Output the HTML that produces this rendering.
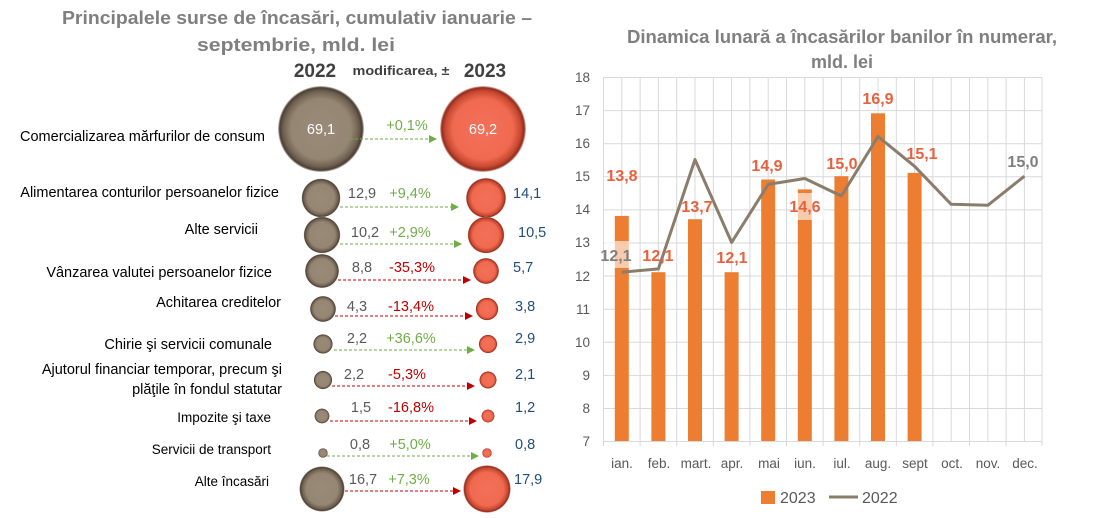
<!DOCTYPE html>
<html><head><meta charset="utf-8"><style>
html,body{margin:0;padding:0;background:#fff;}
svg text{font-family:"Liberation Sans",sans-serif;}
</style></head><body>
<svg width="1104" height="513" viewBox="0 0 1104 513" xmlns="http://www.w3.org/2000/svg">
<defs>
<radialGradient id="gb" cx="50%" cy="50%" r="50%">
<stop offset="0" stop-color="#9a8a78"/><stop offset="0.7" stop-color="#958573"/><stop offset="0.88" stop-color="#6e6050"/><stop offset="0.96" stop-color="#4a3f34"/><stop offset="1" stop-color="#d8d0c8"/>
</radialGradient>
<radialGradient id="gr" cx="50%" cy="50%" r="50%">
<stop offset="0" stop-color="#f4705a"/><stop offset="0.7" stop-color="#f06a50"/><stop offset="0.88" stop-color="#c84830"/><stop offset="0.96" stop-color="#8f2e1e"/><stop offset="1" stop-color="#f0c8c0"/>
</radialGradient>
<marker id="ag" markerWidth="8" markerHeight="8" refX="7" refY="4" orient="auto"><path d="M0,0 L8,4 L0,8 z" fill="#70ad47"/></marker>
<marker id="ar" markerWidth="8" markerHeight="8" refX="7" refY="4" orient="auto"><path d="M0,0 L8,4 L0,8 z" fill="#c00000"/></marker>
</defs>

<text x="297" y="24" text-anchor="middle" font-size="18.5" font-weight="bold" fill="#7f7f7f" textLength="470" lengthAdjust="spacingAndGlyphs">Principalele surse de încasări, cumulativ ianuarie –</text>
<text x="296" y="51" text-anchor="middle" font-size="18.5" font-weight="bold" fill="#7f7f7f" textLength="198" lengthAdjust="spacingAndGlyphs">septembrie, mld. lei</text>
<text x="315" y="77" text-anchor="middle" font-size="19" font-weight="bold" fill="#404040">2022</text>
<text x="401" y="75" text-anchor="middle" font-size="13" font-weight="bold" fill="#404040" textLength="97" lengthAdjust="spacingAndGlyphs">modificarea, ±</text>
<text x="485" y="77" text-anchor="middle" font-size="19" font-weight="bold" fill="#404040">2023</text>

<g font-size="14.5" fill="#000" text-anchor="end">
<text x="265" y="141">Comercializarea mărfurilor de consum</text>
<text x="279" y="197">Alimentarea conturilor persoanelor fizice</text>
<text x="258" y="234">Alte servicii</text>
<text x="272" y="277">Vânzarea valutei persoanelor fizice</text>
<text x="281" y="307">Achitarea creditelor</text>
<text x="272" y="349">Chirie şi servicii comunale</text>
<text x="282" y="374">Ajutorul financiar temporar, precum şi</text>
<text x="282" y="394">plăţile în fondul statutar</text>
<text x="271" y="422" font-size="13.5">Impozite şi taxe</text>
<text x="271" y="454" font-size="13.5">Servicii de transport</text>
<text x="269" y="486" font-size="13.5">Alte încasări</text>
</g>

<g>
<circle cx="321" cy="129" r="43" fill="url(#gb)"/><circle cx="483" cy="129" r="43" fill="url(#gr)"/>
<circle cx="321" cy="198" r="19.4" fill="url(#gb)"/><circle cx="486" cy="198" r="20" fill="url(#gr)"/>
<circle cx="322" cy="235" r="18.3" fill="url(#gb)"/><circle cx="486" cy="235" r="18.3" fill="url(#gr)"/>
<circle cx="322" cy="271" r="17" fill="url(#gb)"/><circle cx="486" cy="271" r="13" fill="url(#gr)"/>
<circle cx="323" cy="309" r="13" fill="url(#gb)"/><circle cx="487" cy="309" r="11.3" fill="url(#gr)"/>
<circle cx="323" cy="344" r="9.7" fill="url(#gb)"/><circle cx="488" cy="344" r="9.2" fill="url(#gr)"/>
<circle cx="323" cy="380" r="9.2" fill="url(#gb)"/><circle cx="488" cy="380" r="8.6" fill="url(#gr)"/>
<circle cx="322" cy="416" r="7.5" fill="url(#gb)"/><circle cx="488" cy="416" r="6.5" fill="url(#gr)"/>
<circle cx="323" cy="453" r="4.8" fill="url(#gb)"/><circle cx="487" cy="453" r="4.8" fill="url(#gr)"/>
<circle cx="322" cy="489" r="22.6" fill="url(#gb)"/><circle cx="487" cy="489" r="23.7" fill="url(#gr)"/>
</g>

<g stroke-width="1" stroke-dasharray="3,2" fill="none">
<line x1="345" y1="139" x2="436" y2="139" stroke="#70ad47" marker-end="url(#ag)"/>
<line x1="340" y1="207" x2="458" y2="207" stroke="#70ad47" marker-end="url(#ag)"/>
<line x1="340" y1="244" x2="461" y2="244" stroke="#70ad47" marker-end="url(#ag)"/>
<line x1="338" y1="280" x2="470" y2="280" stroke="#c00000" marker-end="url(#ar)"/>
<line x1="335" y1="316" x2="472" y2="316" stroke="#c00000" marker-end="url(#ar)"/>
<line x1="334" y1="350" x2="474" y2="350" stroke="#70ad47" marker-end="url(#ag)"/>
<line x1="332" y1="386" x2="474" y2="386" stroke="#c00000" marker-end="url(#ar)"/>
<line x1="330" y1="421" x2="476" y2="421" stroke="#c00000" marker-end="url(#ar)"/>
<line x1="327" y1="456" x2="478" y2="456" stroke="#70ad47" marker-end="url(#ag)"/>
<line x1="345" y1="491" x2="460" y2="491" stroke="#c00000" marker-end="url(#ar)"/>
</g>

<g font-size="14.5">
<text x="321" y="134" text-anchor="middle" fill="#fff">69,1</text>
<text x="483" y="134" text-anchor="middle" fill="#fff">69,2</text>
<g fill="#595959" text-anchor="middle">
<text x="362" y="198">12,9</text><text x="365" y="237">10,2</text><text x="362" y="272">8,8</text>
<text x="357" y="311">4,3</text><text x="357" y="343">2,2</text><text x="354" y="379">2,2</text>
<text x="361" y="412">1,5</text><text x="360" y="449">0,8</text><text x="363" y="484">16,7</text>
</g>
<g text-anchor="middle">
<text x="407" y="130" fill="#70ad47">+0,1%</text>
<text x="410" y="198" fill="#70ad47">+9,4%</text>
<text x="410" y="237" fill="#70ad47">+2,9%</text>
<text x="412" y="272" fill="#c00000">-35,3%</text>
<text x="411" y="311" fill="#c00000">-13,4%</text>
<text x="411" y="343" fill="#70ad47">+36,6%</text>
<text x="407" y="379" fill="#c00000">-5,3%</text>
<text x="411" y="412" fill="#c00000">-16,8%</text>
<text x="410" y="449" fill="#70ad47">+5,0%</text>
<text x="409" y="484" fill="#70ad47">+7,3%</text>
</g>
<g fill="#1f4e79">
<text x="513" y="198">14,1</text><text x="518" y="237">10,5</text><text x="513" y="272">5,7</text>
<text x="515" y="311">3,8</text><text x="515" y="343">2,9</text><text x="515" y="379">2,1</text>
<text x="515" y="412">1,2</text><text x="515" y="449">0,8</text><text x="514" y="484">17,9</text>
</g>
</g>

<text x="842" y="43" text-anchor="middle" font-size="18" font-weight="bold" fill="#7f7f7f" textLength="430" lengthAdjust="spacingAndGlyphs">Dinamica lunară a încasărilor banilor în numerar,</text>
<text x="842" y="68" text-anchor="middle" font-size="18" font-weight="bold" fill="#7f7f7f">mld. lei</text>

<g stroke="#d9d9d9" stroke-width="1">
<line x1="603" y1="77.5" x2="1042" y2="77.5"/><line x1="603" y1="110.6" x2="1042" y2="110.6"/>
<line x1="603" y1="143.7" x2="1042" y2="143.7"/><line x1="603" y1="176.8" x2="1042" y2="176.8"/>
<line x1="603" y1="209.9" x2="1042" y2="209.9"/><line x1="603" y1="243" x2="1042" y2="243"/>
<line x1="603" y1="276" x2="1042" y2="276"/><line x1="603" y1="309.2" x2="1042" y2="309.2"/>
<line x1="603" y1="342.3" x2="1042" y2="342.3"/><line x1="603" y1="375.4" x2="1042" y2="375.4"/>
<line x1="603" y1="408.5" x2="1042" y2="408.5"/><line x1="603" y1="441.5" x2="1042" y2="441.5"/>
<line x1="603.5" y1="77" x2="603.5" y2="446"/><line x1="621.8" y1="77" x2="621.8" y2="441"/>
<line x1="640.1" y1="77" x2="640.1" y2="446"/><line x1="658.4" y1="77" x2="658.4" y2="441"/>
<line x1="676.7" y1="77" x2="676.7" y2="446"/><line x1="695" y1="77" x2="695" y2="441"/>
<line x1="713.3" y1="77" x2="713.3" y2="446"/><line x1="731.6" y1="77" x2="731.6" y2="441"/>
<line x1="749.9" y1="77" x2="749.9" y2="446"/><line x1="768.2" y1="77" x2="768.2" y2="441"/>
<line x1="786.5" y1="77" x2="786.5" y2="446"/><line x1="804.8" y1="77" x2="804.8" y2="441"/>
<line x1="823.1" y1="77" x2="823.1" y2="446"/><line x1="841.4" y1="77" x2="841.4" y2="441"/>
<line x1="859.7" y1="77" x2="859.7" y2="446"/><line x1="878" y1="77" x2="878" y2="441"/>
<line x1="896.3" y1="77" x2="896.3" y2="446"/><line x1="914.6" y1="77" x2="914.6" y2="441"/>
<line x1="932.9" y1="77" x2="932.9" y2="446"/><line x1="951.2" y1="77" x2="951.2" y2="441"/>
<line x1="969.5" y1="77" x2="969.5" y2="446"/><line x1="987.8" y1="77" x2="987.8" y2="441"/>
<line x1="1006.1" y1="77" x2="1006.1" y2="446"/><line x1="1024.4" y1="77" x2="1024.4" y2="441"/>
<line x1="1042" y1="77" x2="1042" y2="446"/>
</g>
<g font-size="13.5" fill="#595959" text-anchor="end">
<text x="590" y="82">18</text><text x="590" y="115">17</text><text x="590" y="148">16</text>
<text x="590" y="181">15</text><text x="590" y="214">14</text><text x="590" y="247">13</text>
<text x="590" y="281">12</text><text x="590" y="314">11</text><text x="590" y="347">10</text>
<text x="590" y="380">9</text><text x="590" y="413">8</text><text x="590" y="446">7</text>
</g>
<g fill="#ed7d31">
<rect x="614.8" y="215.9" width="14" height="225.1"/>
<rect x="651.4" y="272.2" width="14" height="168.8"/>
<rect x="688" y="219.2" width="14" height="221.8"/>
<rect x="724.6" y="272.2" width="14" height="168.8"/>
<rect x="761.2" y="179.5" width="14" height="261.5"/>
<rect x="797.8" y="189.4" width="14" height="251.6"/>
<rect x="834.4" y="176.2" width="14" height="264.8"/>
<rect x="871" y="113.3" width="14" height="327.7"/>
<rect x="907.6" y="172.9" width="14" height="268.1"/>
</g>
<rect x="605" y="241" width="24" height="27" fill="#fff" opacity="0.6"/>
<rect x="792" y="193" width="32" height="27" fill="#fff" opacity="0.6"/>
<polyline fill="none" stroke="#8b7d6b" stroke-width="3" stroke-linejoin="round"
points="621.8,272.2 658.4,268.9 695,159.6 731.6,242.4 768.2,184.4 804.8,178.5 841.4,196 878,136.5 914.6,166.3 951.2,204.3 987.8,205.3 1024.4,176.2"/>
<g font-size="16" font-weight="bold" text-anchor="middle">
<text x="622" y="181" fill="#e8603c">13,8</text>
<text x="658" y="261" fill="#e8603c">12,1</text>
<text x="697" y="212" fill="#e8603c">13,7</text>
<text x="732" y="263" fill="#e8603c">12,1</text>
<text x="767" y="171" fill="#e8603c">14,9</text>
<text x="805" y="212" fill="#e8603c">14,6</text>
<text x="842" y="169" fill="#e8603c">15,0</text>
<text x="878" y="104" fill="#e8603c">16,9</text>
<text x="922" y="159" fill="#e8603c">15,1</text>
<text x="616" y="261" fill="#7f7f7f">12,1</text>
<text x="1023" y="167" fill="#7f7f7f">15,0</text>
</g>
<g font-size="13.5" fill="#595959" text-anchor="middle">
<text x="622" y="468">ian.</text><text x="659" y="468">feb.</text><text x="696" y="468">mart.</text>
<text x="732" y="468">apr.</text><text x="769" y="468">mai</text><text x="805" y="468">iun.</text>
<text x="842" y="468">iul.</text><text x="878" y="468">aug.</text><text x="915" y="468">sept</text>
<text x="952" y="468">oct.</text><text x="988" y="468">nov.</text><text x="1025" y="468">dec.</text>
</g>
<rect x="761" y="491" width="14" height="13" fill="#ed7d31"/>
<text x="780" y="503" font-size="16" fill="#595959">2023</text>
<line x1="829" y1="497" x2="858" y2="497" stroke="#8b7d6b" stroke-width="3"/>
<text x="862" y="503" font-size="16" fill="#595959">2022</text>
</svg>
</body></html>
